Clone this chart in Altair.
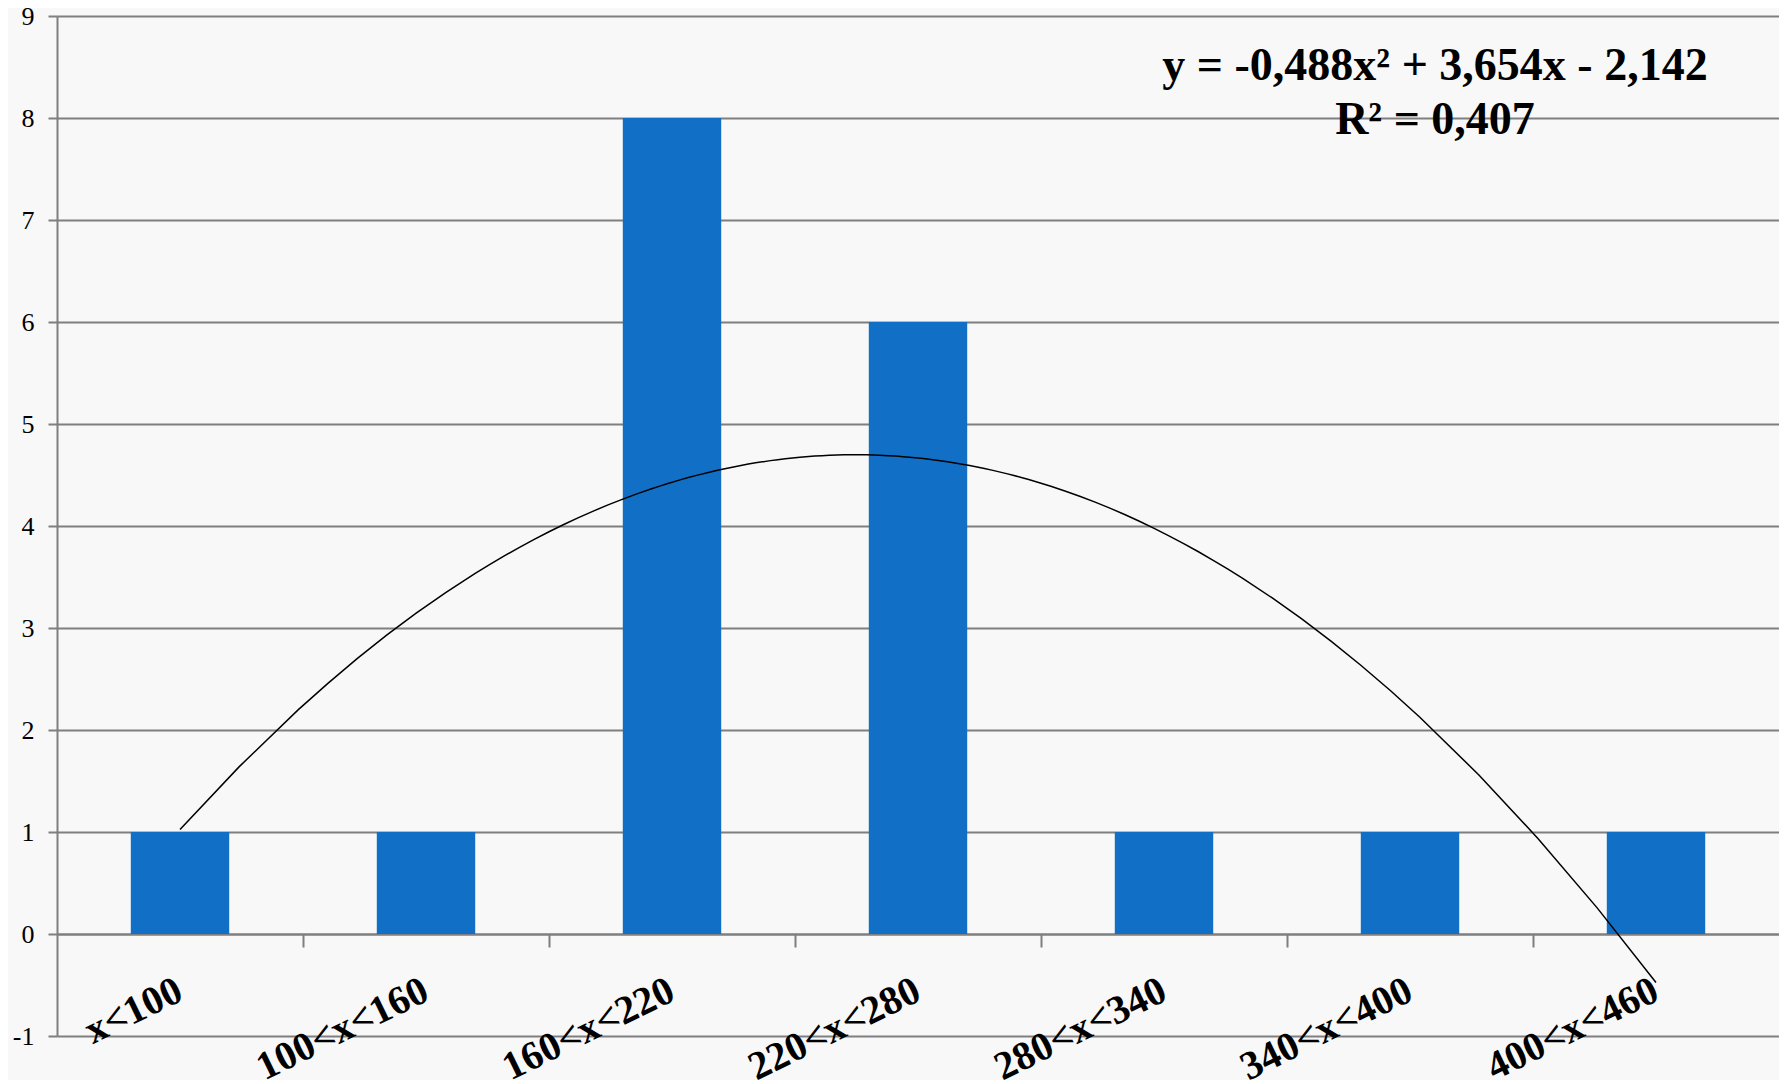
import altair as alt
import pandas as pd

categories = ["x<100", "100<x<160", "160<x<220", "220<x<280",
              "280<x<340", "340<x<400", "400<x<460"]
counts = [1, 1, 8, 6, 1, 1, 1]
y_ticks = [-1, 0, 1, 2, 3, 4, 5, 6, 7, 8, 9]
boundaries = [1.5, 2.5, 3.5, 4.5, 5.5, 6.5]
equation_lines = ["y = -0,488x² + 3,654x - 2,142", "R² = 0,407"]

W, H = 1722, 1020
unit = H / (y_ticks[-1] - y_ticks[0])

df = pd.DataFrame({
    "category": categories,
    "count": counts,
    "idx": list(range(1, len(categories) + 1)),
})
eq_df = pd.DataFrame({"eq": ["\n".join(equation_lines)]})

FONT = "Liberation Serif"
GRID = "#7f7f7f"
BAR = "#1170c6"

y_scale = alt.Scale(domain=[y_ticks[0], y_ticks[-1]], nice=False, zero=False)
y_axis = alt.Axis(
    title=None, values=y_ticks, grid=True, labelExpr="'' + datum.value",
    gridColor=GRID, gridWidth=2, domainColor=GRID, domainWidth=2,
    tickColor=GRID, tickWidth=2, tickSize=9, labelPadding=14,
    labelFont=FONT, labelFontSize=26, labelColor="black",
)

bars = alt.Chart(df).mark_bar(color=BAR).encode(
    x=alt.X(
        "category:N", sort=categories,
        scale=alt.Scale(paddingInner=0.6, paddingOuter=0.3),
        axis=alt.Axis(
            title=None, orient="bottom", offset=-unit, ticks=False, tickSize=0,
            domain=False, grid=False, labelAngle=334, labelAlign="right",
            labelBaseline="middle", labelPadding=54, labelFont=FONT,
            labelFontSize=40, labelFontWeight="bold", labelColor="black",
            labelLimit=500, labelOverlap=False,
        ),
    ),
    y=alt.Y("count:Q", scale=y_scale, axis=y_axis),
)

curve = alt.Chart(df).transform_regression(
    "idx", "count", method="poly", order=2, extent=[1, len(categories)]
).mark_line(color="black", strokeWidth=1.5).encode(
    x=alt.X(
        "idx:Q",
        scale=alt.Scale(domain=[0.5, len(categories) + 0.5], nice=False, zero=False),
        axis=alt.Axis(
            title=None, orient="bottom", offset=-unit, values=boundaries,
            labels=False, grid=False, domainColor=GRID, domainWidth=2,
            tickColor=GRID, tickWidth=2, tickSize=13,
        ),
    ),
    y=alt.Y("count:Q", scale=y_scale),
)

eq = alt.Chart(eq_df).mark_text(
    font=FONT, fontSize=46, fontWeight="bold", align="center",
    baseline="alphabetic", color="black", lineBreak="\n", lineHeight=54,
).encode(
    text="eq:N",
    x=alt.value(1378),
    y=alt.value(64),
)

chart = alt.layer(bars, curve, eq).resolve_scale(x="independent").properties(
    width=W, height=H,
    autosize=alt.AutoSizeParams(type="none"),
    padding={"left": 49, "top": 8, "right": 0, "bottom": 44},
    background="#f8f8f8",
).configure_view(stroke=None).configure_axis(
    labelFont=FONT, labelColor="black",
).configure_axisY(
    labelFontSize=26,
)

chart.save("out.html", embed_options={"renderer": "svg", "actions": False})
